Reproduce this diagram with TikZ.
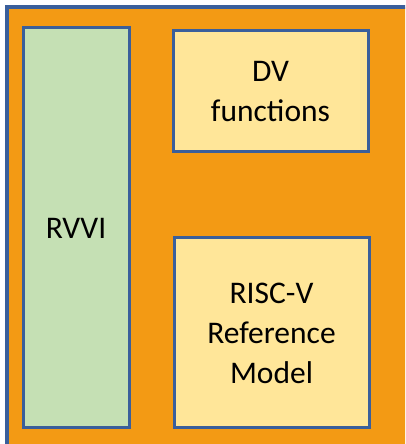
\documentclass[tikz,border=0pt]{standalone}
\usepackage{fontspec}
\setmainfont{Carlito}
\usepackage{tikz}

\definecolor{frameorange}{HTML}{F39A14}
\definecolor{boxgreen}{HTML}{C5E0B4}
\definecolor{boxyellow}{HTML}{FFE699}
\definecolor{edgeblue}{HTML}{3A5F9B}

\begin{document}
\begin{tikzpicture}[x=1pt,y=1pt,
  block/.style={draw=edgeblue,line width=3pt,align=center,inner sep=0pt,
    font=\fontsize{31.5}{40}\selectfont}]
\useasboundingbox (0,0) rectangle (405,444);
\scope
\clip (0,0) rectangle (405,444);
\draw[fill=frameorange,draw=edgeblue,line width=3.5pt] (7,437) rectangle (420,-20);
\endscope
\node[block,fill=boxgreen,minimum width=106,minimum height=400] (rvvi) at (76,216) {RVVI};
\node[block,fill=boxyellow,minimum width=195,minimum height=121] (dv) at (270.5,352.5) {DV\\functions};
\node[block,fill=boxyellow,minimum width=195,minimum height=190] (ref) at (271.5,111) {RISC-V\\Reference\\Model};
\end{tikzpicture}
\end{document}
